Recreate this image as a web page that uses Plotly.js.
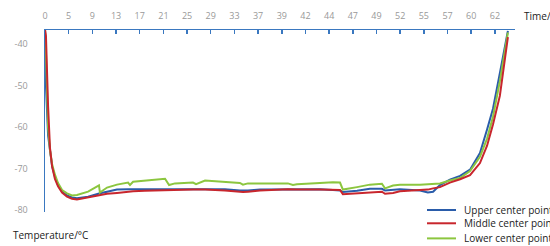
<!DOCTYPE html>
<html>
<head>
<meta charset="utf-8">
<script src="https://cdn.plot.ly/plotly-3.0.1.min.js"></script>
<style>html,body{margin:0;padding:0;background:#fff;}#chart{width:550px;height:246px;}</style>
</head>
<body>
<div id="chart"></div>
<script>
// sample position along the time axis (10 samples per labelled tick)
const sampleIdx = [0, 0.4, 1.3, 2.1, 3.0, 4.2, 5.5, 7.2, 9.3, 11.4, 13.5, 18.2, 22.8, 23.2, 26.2, 30.4, 35.1, 35.9, 37.2, 42.2,
  50.7, 52.4, 54.9, 62.5, 63.8, 67.6, 76.0, 82.3, 83.6, 85.7, 90.8, 102.6, 104.7, 106.4, 116.1, 121.6, 124.6, 125.8,
  131.8, 137.2, 142.3, 143.6, 147.0, 149.9, 158.4, 161.7, 163.9, 166.8, 171.0, 175.3, 179.5, 183.7, 186.7, 189.2, 192.1, 195.5];

const upperCenter = [-36.5, -50, -62, -66, -69.5, -72, -74, -75.6, -76.5, -77.0, -77.2, -76.8, -76.0, -76.0, -75.6, -75.1, -75.0, -75.0, -75.0, -74.95,
  -74.9, -74.9, -74.9, -74.9, -74.9, -74.9, -75.0, -75.3, -75.3, -75.3, -75.1, -75.0, -75.0, -75.0, -75.0, -75.2, -75.3, -75.7,
  -75.4, -74.9, -74.9, -75.3, -75.2, -75.0, -75.3, -75.8, -75.6, -74.0, -72.7, -71.8, -70.3, -66.3, -60.6, -55.6, -47, -36.8];

const middleCenter = [-36.5, -38, -55, -65, -69.5, -72.5, -74.3, -75.8, -76.8, -77.3, -77.5, -77.0, -76.4, -76.3, -76.1, -75.9, -75.6, -75.6, -75.5, -75.4,
  -75.2, -75.2, -75.1, -75.1, -75.1, -75.1, -75.3, -75.7, -75.7, -75.6, -75.3, -75.0, -75.05, -75.1, -75.1, -75.1, -75.2, -76.2,
  -76.0, -75.8, -75.6, -76.1, -75.9, -75.5, -75.3, -75.1, -74.8, -74.5, -73.4, -72.6, -71.6, -68.7, -64.5, -59.4, -52.5, -38.3];

const lowerCenter = [-36.5, -42, -60, -65.5, -69, -71.5, -73.5, -75.2, -76.0, -76.5, -76.4, -75.6, -74.1, -75.8, -74.6, -73.9, -73.4, -74.0, -73.2, -72.9,
  -72.5, -74.0, -73.6, -73.4, -73.8, -72.9, -73.3, -73.5, -73.9, -73.6, -73.6, -73.6, -74.0, -73.8, -73.5, -73.3, -73.4, -75.1,
  -74.5, -73.9, -73.7, -74.8, -74.1, -73.9, -73.9, -73.8, -73.7, -73.6, -72.9, -72.3, -70.6, -67.2, -62.8, -57.5, -49, -37.2];

const tickPositions = [0, 10, 20, 30, 40, 50, 60, 70, 80, 90, 100, 110, 120, 130, 140, 150, 160, 170, 180, 190];
const tickLabels = ['0', '5', '9', '13', '17', '21', '25', '29', '33', '37', '39', '42', '44', '47', '49', '52', '55', '57', '60', '62'];
const yTicks = [-40, -50, -60, -70, -80];

const seriesNames = ['Upper center point', 'Middle center point', 'Lower center point'];
const seriesData = [upperCenter, middleCenter, lowerCenter];
const seriesColors = ['#2a5caa', '#c8262d', '#8cc63f'];
const drawOrder = [0, 2, 1];

const traces = drawOrder.map(i => ({
  type: 'scatter', mode: 'lines', x: sampleIdx, y: seriesData[i], name: seriesNames[i],
  line: {color: seriesColors[i], width: 2}, showlegend: false, hoverinfo: 'skip'
}));

const axisBlue = '#3a78c0';
const shapes = [];
const annotations = [];
const legRowsY = [0.011, -0.062, -0.145];
seriesNames.forEach((n, i) => {
  shapes.push({type: 'line', xref: 'paper', yref: 'paper', x0: 0.8128, x1: 0.8745, y0: legRowsY[i], y1: legRowsY[i],
    line: {color: seriesColors[i], width: 2}});
  annotations.push({xref: 'paper', yref: 'paper', x: 0.8872, y: legRowsY[i], xanchor: 'left', yanchor: 'middle',
    text: n, showarrow: false, font: {size: 10, color: '#222'}});
});
annotations.push({xref: 'paper', yref: 'paper', x: 1.015, y: 1.077, xanchor: 'left', yanchor: 'middle',
  text: 'Time/h', showarrow: false, font: {size: 10, color: '#222'}});
annotations.push({xref: 'paper', yref: 'paper', x: -0.072, y: -0.126, xanchor: 'left', yanchor: 'middle',
  text: 'Temperature/°C', showarrow: false, font: {size: 10, color: '#222'}});

const layout = {
  width: 550, height: 246,
  margin: {l: 45, r: 35, t: 30, b: 34},
  paper_bgcolor: '#fff', plot_bgcolor: '#fff',
  font: {family: 'Open Sans, sans-serif', size: 9, color: '#999'},
  showlegend: false,
  xaxis: {
    side: 'top', range: [0, 198.5], tickmode: 'array', tickvals: tickPositions, ticktext: tickLabels,
    showgrid: false, zeroline: false, showline: true, linecolor: axisBlue, linewidth: 1.5,
    ticks: 'inside', ticklen: 4, tickcolor: axisBlue, tickwidth: 1.5,
    tickfont: {size: 9, color: '#999'}, ticklabelstandoff: 6
  },
  yaxis: {
    range: [-80.5, -36.6], tickmode: 'array', tickvals: yTicks, ticktext: yTicks.map(String),
    showgrid: false, zeroline: false, showline: true, linecolor: axisBlue, linewidth: 1.5,
    ticks: '', tickfont: {size: 9, color: '#999'}, ticklabelstandoff: 14
  },
  shapes: shapes,
  annotations: annotations
};

Plotly.newPlot('chart', traces, layout, {staticPlot: true, displayModeBar: false});
</script>
</body>
</html>
